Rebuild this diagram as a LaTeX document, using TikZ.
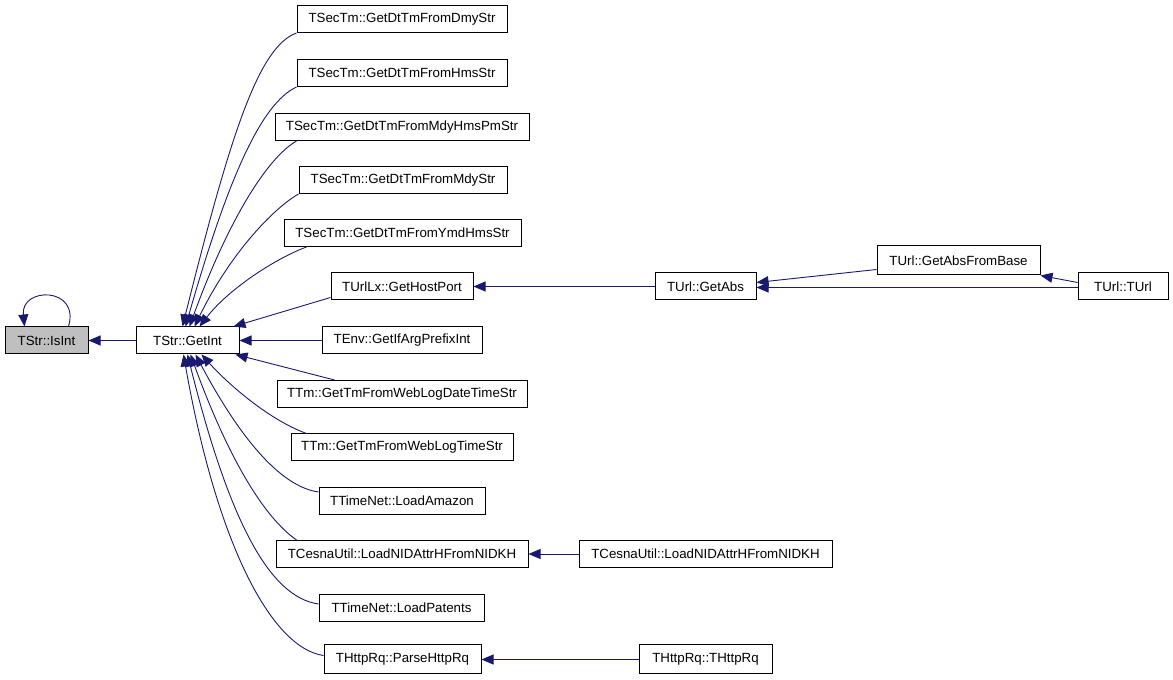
\documentclass[tikz,border=0pt]{standalone}
\usepackage{fontspec}
\setmainfont{Liberation Sans}
\usetikzlibrary{arrows.meta}
\definecolor{edgeblue}{RGB}{25,25,112}
\definecolor{focusgray}{RGB}{191,191,191}
\begin{document}
\begin{tikzpicture}[x=1pt, y=1pt,
  fn/.style={draw=black, line width=1pt, inner sep=0pt, minimum height=27pt,
    font=\fontsize{13.3}{16}\selectfont},
  call/.style={draw=edgeblue, line width=0.9pt, -{Triangle[length=12pt,width=10pt]}}]
  \useasboundingbox (0,0) rectangle (1173,680);

  % Function being documented
  \node[fn, fill=focusgray, minimum width=83pt] (IsInt) at (46.5,339.5) {TStr::IsInt};
  \node[fn, minimum width=103pt] (GetInt) at (187.5,339.5) {TStr::GetInt};

  % Direct callers of GetInt
  \node[fn, minimum width=210pt] (DmyStr) at (402,661) {TSecTm::GetDtTmFromDmyStr};
  \node[fn, minimum width=210pt] (HmsStr) at (402,607) {TSecTm::GetDtTmFromHmsStr};
  \node[fn, minimum width=254pt] (MdyHmsPmStr) at (402,553) {TSecTm::GetDtTmFromMdyHmsPmStr};
  \node[fn, minimum width=208pt] (MdyStr) at (403,500) {TSecTm::GetDtTmFromMdyStr};
  \node[fn, minimum width=237pt] (YmdHmsStr) at (402.5,447) {TSecTm::GetDtTmFromYmdHmsStr};
  \node[fn, minimum width=142pt] (GetHostPort) at (402,393.5) {TUrlLx::GetHostPort};
  \node[fn, minimum width=160pt] (ArgPrefixInt) at (402,339.5) {TEnv::GetIfArgPrefixInt};
  \node[fn, minimum width=250pt] (LogDateTime) at (402,286) {TTm::GetTmFromWebLogDateTimeStr};
  \node[fn, minimum width=222pt] (LogTime) at (402,232.5) {TTm::GetTmFromWebLogTimeStr};
  \node[fn, minimum width=166pt] (LoadAmazon) at (402,179) {TTimeNet::LoadAmazon};
  \node[fn, minimum width=252pt] (LoadNIDAttr) at (402,126) {TCesnaUtil::LoadNIDAttrHFromNIDKH};
  \node[fn, minimum width=165pt] (LoadPatents) at (401.5,72) {TTimeNet::LoadPatents};
  \node[fn, minimum width=157pt, minimum height=29pt] (ParseHttpRq) at (402.5,20.5) {THttpRq::ParseHttpRq};

  % Callers further out
  \node[fn, minimum width=101pt] (GetAbs) at (705.5,393.5) {TUrl::GetAbs};
  \node[fn, minimum width=163pt, minimum height=29pt] (AbsFromBase) at (958.5,419.5) {TUrl::GetAbsFromBase};
  \node[fn, minimum width=90pt] (TUrl) at (1123,393.5) {TUrl::TUrl};
  \node[fn, minimum width=253pt] (LoadNIDAttrTop) at (705.5,126) {TCesnaUtil::LoadNIDAttrHFromNIDKH};
  \node[fn, minimum width=133pt, minimum height=29pt] (HttpRqCtor) at (705.5,20.5) {THttpRq::THttpRq};

  % Self call
  \draw[call] ([xshift=22pt]IsInt.north) .. controls +(12,40) and +(-4,40) .. ([xshift=-22pt]IsInt.north);
  \draw[call] (GetInt) -- (IsInt);

  % Calls into GetInt from above
  \draw[call] (DmyStr.south west) to[out=200, in=76, out distance=40pt, in distance=200pt] ([xshift=-5pt]GetInt.north);
  \draw[call] (HmsStr.south west) to[out=205, in=74, out distance=40pt, in distance=150pt] ([xshift=-2pt]GetInt.north);
  \draw[call] ([xshift=22pt]MdyHmsPmStr.south west) to[out=210, in=70, out distance=35pt, in distance=110pt] ([xshift=2pt]GetInt.north);
  \draw[call] (MdyStr.south west) to[out=210, in=64, out distance=30pt, in distance=80pt] ([xshift=7pt]GetInt.north);
  \draw[call] ([xshift=23pt]YmdHmsStr.south west) to[out=200, in=52, out distance=30pt, in distance=50pt] ([xshift=12pt]GetInt.north);
  \draw[call] ([yshift=3pt]GetHostPort.south west) -- ([xshift=-6pt]GetInt.north east);
  \draw[call] (ArgPrefixInt) -- (GetInt);

  % Calls into GetInt from below
  \draw[call] ([xshift=58pt]LogDateTime.north west) -- ([xshift=-4pt]GetInt.south east);
  \draw[call] ([xshift=16pt]LogTime.north west) to[out=160, in=-48, out distance=40pt, in distance=40pt] ([xshift=14pt]GetInt.south);
  \draw[call] ([yshift=9pt]LoadAmazon.west) to[out=172, in=-62, out distance=40pt, in distance=90pt] ([xshift=8pt]GetInt.south);
  \draw[call] ([xshift=21pt]LoadNIDAttr.north west) to[out=145, in=-70, out distance=40pt, in distance=110pt] ([xshift=3pt]GetInt.south);
  \draw[call] ([yshift=4pt]LoadPatents.west) to[out=172, in=-76, out distance=50pt, in distance=170pt] ([xshift=0pt]GetInt.south);
  \draw[call] ([yshift=4pt]ParseHttpRq.west) to[out=172, in=-80, out distance=50pt, in distance=200pt] ([xshift=-4pt]GetInt.south);

  % Second level
  \draw[call] (GetAbs) -- (GetHostPort);
  \draw[call] ([yshift=6pt]AbsFromBase.south west) -- ([yshift=4pt]GetAbs.east);
  \draw[call] ([yshift=-1pt]TUrl.west) -- ([yshift=-1pt]GetAbs.east);
  \draw[call] ([yshift=4pt]TUrl.west) -- (AbsFromBase.south east);
  \draw[call] (LoadNIDAttrTop) -- (LoadNIDAttr);
  \draw[call] (HttpRqCtor) -- (ParseHttpRq);
\end{tikzpicture}
\end{document}
